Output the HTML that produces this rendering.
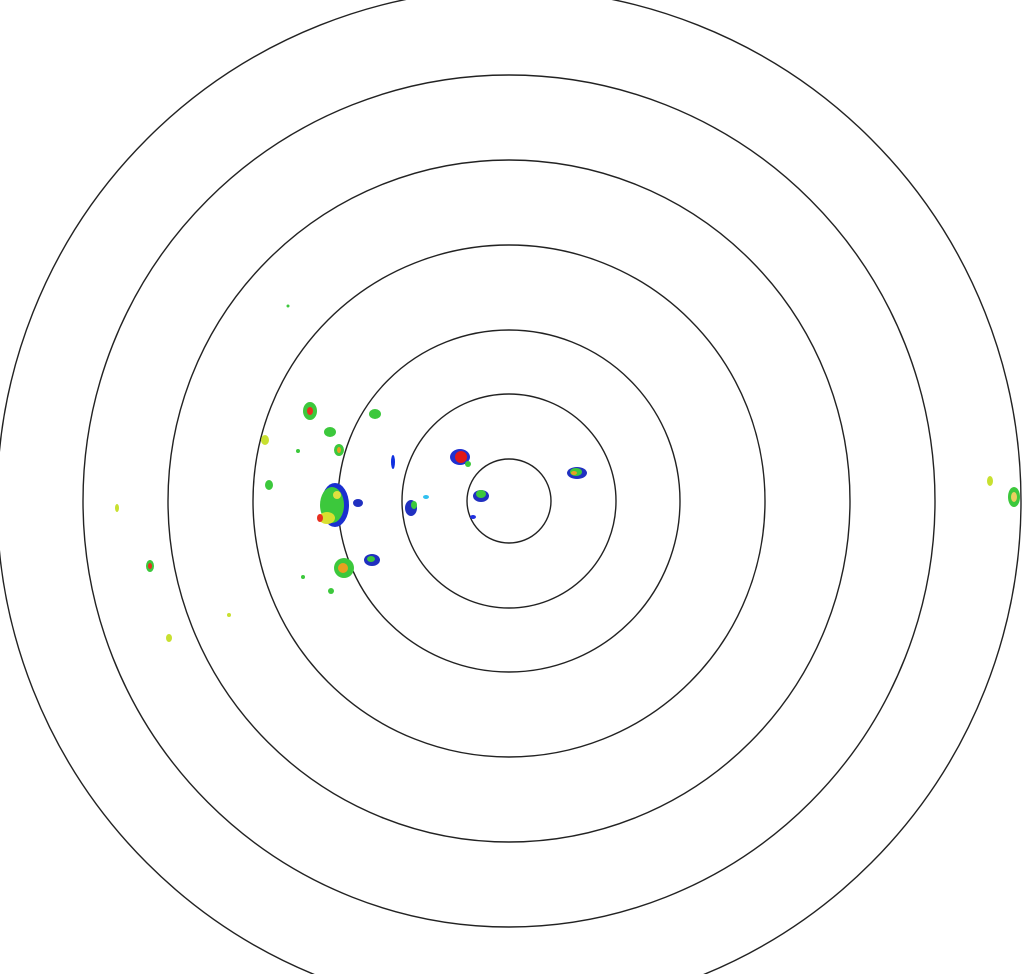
<!DOCTYPE html>
<html><head><style>html,body{margin:0;padding:0;background:#fff;width:1029px;height:974px;overflow:hidden}</style></head>
<body>
<svg width="1029" height="974" viewBox="0 0 1029 974" xmlns="http://www.w3.org/2000/svg">
<g fill="none" stroke="#222" stroke-width="1.4">
<circle cx="509" cy="501" r="42"/>
<circle cx="509" cy="501" r="107"/>
<circle cx="509" cy="501" r="171"/>
<circle cx="509" cy="501" r="256"/>
<circle cx="509" cy="501" r="341"/>
<circle cx="509" cy="501" r="426"/>
<circle cx="509" cy="501" r="512"/>
</g>
<g>
<ellipse cx="335" cy="505" rx="14" ry="22" fill="#1a2fd0"/>
<ellipse cx="332" cy="505" rx="12" ry="18" fill="#3cc83c"/>
<ellipse cx="327" cy="518" rx="8" ry="6" fill="#d8e030"/>
<ellipse cx="320" cy="518" rx="3" ry="4" fill="#e83020"/>
<ellipse cx="337" cy="495" rx="4" ry="4" fill="#e0e040"/>
<ellipse cx="344" cy="568" rx="10" ry="10" fill="#3cc83c"/>
<ellipse cx="343" cy="568" rx="5" ry="5" fill="#e8a020"/>
<ellipse cx="372" cy="560" rx="8" ry="6" fill="#2030c0"/>
<ellipse cx="371" cy="559" rx="4" ry="3" fill="#3cc83c"/>
<ellipse cx="310" cy="411" rx="7" ry="9" fill="#3cc83c"/>
<ellipse cx="310" cy="411" rx="3" ry="4" fill="#e83020"/>
<ellipse cx="330" cy="432" rx="6" ry="5" fill="#3cc83c"/>
<ellipse cx="339" cy="450" rx="5" ry="6" fill="#3cc83c"/>
<ellipse cx="339" cy="450" rx="2" ry="3" fill="#e8a020"/>
<ellipse cx="375" cy="414" rx="6" ry="5" fill="#3cc83c"/>
<ellipse cx="265" cy="440" rx="4" ry="5" fill="#c8e030"/>
<ellipse cx="269" cy="485" rx="4" ry="5" fill="#3cc83c"/>
<ellipse cx="358" cy="503" rx="5" ry="4" fill="#2030c0"/>
<ellipse cx="460" cy="457" rx="10" ry="8" fill="#2030d0"/>
<ellipse cx="461" cy="457" rx="6" ry="6" fill="#e01818"/>
<ellipse cx="468" cy="464" rx="3" ry="3" fill="#3cc83c"/>
<ellipse cx="481" cy="496" rx="8" ry="6" fill="#2030c0"/>
<ellipse cx="481" cy="494" rx="5" ry="4" fill="#3cc83c"/>
<ellipse cx="411" cy="508" rx="6" ry="8" fill="#2030c0"/>
<ellipse cx="414" cy="505" rx="3" ry="4" fill="#3cc83c"/>
<ellipse cx="393" cy="462" rx="2" ry="7" fill="#1030e0"/>
<ellipse cx="426" cy="497" rx="3" ry="2" fill="#30c0f0"/>
<ellipse cx="577" cy="473" rx="10" ry="6" fill="#2030c0"/>
<ellipse cx="576" cy="472" rx="6" ry="4" fill="#3cc83c"/>
<ellipse cx="574" cy="473" rx="3" ry="2" fill="#e8a020"/>
<ellipse cx="473" cy="517" rx="3" ry="2" fill="#2030e0"/>
<ellipse cx="150" cy="566" rx="4" ry="6" fill="#3cc83c"/>
<ellipse cx="150" cy="566" rx="2" ry="3" fill="#e83020"/>
<ellipse cx="117" cy="508" rx="2" ry="4" fill="#c8e030"/>
<ellipse cx="169" cy="638" rx="3" ry="4" fill="#c8e030"/>
<ellipse cx="229" cy="615" rx="2" ry="2" fill="#c8e030"/>
<ellipse cx="990" cy="481" rx="3" ry="5" fill="#c8e030"/>
<ellipse cx="1014" cy="497" rx="6" ry="10" fill="#3cc83c"/>
<ellipse cx="1014" cy="497" rx="3" ry="5" fill="#e8d060"/>
<ellipse cx="288" cy="306" rx="1.5" ry="1.5" fill="#3cc83c"/>
<ellipse cx="331" cy="591" rx="3" ry="3" fill="#3cc83c"/>
<ellipse cx="303" cy="577" rx="2" ry="2" fill="#3cc83c"/>
<ellipse cx="298" cy="451" rx="2" ry="2" fill="#3cc83c"/>
</g>
</svg>
</body></html>
